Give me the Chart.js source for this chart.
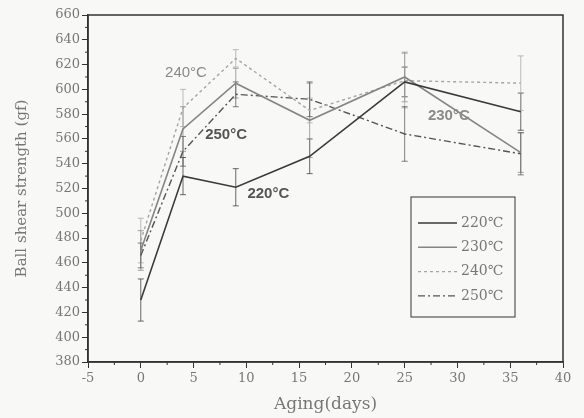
<!DOCTYPE html>
<html>
<head>
<meta charset="utf-8">
<script src="https://cdn.jsdelivr.net/npm/chart.js@4.4.1/dist/chart.umd.min.js"></script>
<style>
  html, body { margin: 0; padding: 0; background: #f8f8f6; }
  canvas { display: block; }
</style>
</head>
<body>
<canvas id="c" width="584" height="418"></canvas>
<script>
// aging days and ball shear strength (gf) per reflow temperature
const days = [0, 4, 9, 16, 25, 36];
const s220 = [430, 530, 521, 546, 606, 582];
const s230 = [470, 568, 605, 575, 610, 549];
const s240 = [478, 585, 625, 583, 607, 605];
const s250 = [466, 550, 596, 592, 564, 548];
// error bar half-heights
const e220 = [17, 15, 15, 14, 12, 15];
const e230 = [16, 18, 12, 30, 20, 16];
const e240 = [18, 15, 7, 10, 22, 22];
const e250 = [10, 12, 10, 14, 22, 17];

const seriesNames = ["220℃", "230℃", "240℃", "250℃"];
const xTicks = [-5, 0, 5, 10, 15, 20, 25, 30, 35, 40];

// in-plot labels (data coords, left edge)
const tags = [
  { text: "240°C", x: 2.3, y: 613, color: "#8a8a8a", bold: false },
  { text: "250°C", x: 6.1, y: 563, color: "#555", bold: true },
  { text: "220°C", x: 10.1, y: 516, color: "#555", bold: true },
  { text: "230°C", x: 27.2, y: 579, color: "#8a8a8a", bold: true },
];

const serif = "'DejaVu Serif', 'Liberation Serif', serif";

const mk = (label, vals, errs, color, width, dash) => ({
  label,
  data: days.map((d, i) => ({ x: d, y: vals[i] })),
  errs,
  showLine: true,
  borderColor: color,
  borderWidth: width,
  borderDash: dash,
  pointRadius: 0,
  fill: false,
  tension: 0
});

const datasets = [
  mk(seriesNames[0], s220, e220, "#3a3a3a", 1.6, []),
  mk(seriesNames[1], s230, e230, "#858585", 1.6, []),
  mk(seriesNames[2], s240, e240, "#a5a5a5", 1.4, [3, 3]),
  mk(seriesNames[3], s250, e250, "#555555", 1.4, [7, 3, 2, 3]),
];

const bgPlugin = {
  id: "bg",
  beforeDraw(chart) {
    const ctx = chart.ctx;
    ctx.save();
    ctx.fillStyle = "#f8f8f6";
    ctx.fillRect(0, 0, chart.width, chart.height);
    ctx.restore();
  }
};

const errPlugin = {
  id: "errbars",
  beforeDatasetsDraw(chart) {
    const ctx = chart.ctx, xs = chart.scales.x, ys = chart.scales.y;
    ctx.save();
    chart.data.datasets.forEach(ds => {
      ctx.strokeStyle = ds.borderColor;
      ctx.globalAlpha = 0.75;
      ctx.lineWidth = 1;
      ctx.setLineDash([]);
      ds.data.forEach((p, i) => {
        const e = ds.errs[i];
        const px = xs.getPixelForValue(p.x);
        const t = ys.getPixelForValue(p.y + e);
        const b = ys.getPixelForValue(p.y - e);
        ctx.beginPath();
        ctx.moveTo(px, t); ctx.lineTo(px, b);
        ctx.moveTo(px - 3, t); ctx.lineTo(px + 3, t);
        ctx.moveTo(px - 3, b); ctx.lineTo(px + 3, b);
        ctx.stroke();
      });
    });
    ctx.restore();
  }
};

const decoPlugin = {
  id: "deco",
  afterDraw(chart) {
    const ctx = chart.ctx, xs = chart.scales.x, ys = chart.scales.y;
    const a = chart.chartArea;
    ctx.save();
    // frame
    ctx.strokeStyle = "#333";
    ctx.lineWidth = 1.5;
    ctx.strokeRect(a.left, a.top, a.right - a.left, a.bottom - a.top);
    // minor ticks
    ctx.lineWidth = 1;
    ctx.beginPath();
    for (let v = 390; v < 660; v += 20) {
      const py = ys.getPixelForValue(v);
      ctx.moveTo(a.left - 3, py); ctx.lineTo(a.left, py);
    }
    for (let v = -2.5; v < 40; v += 5) {
      const px = xs.getPixelForValue(v);
      ctx.moveTo(px, a.bottom); ctx.lineTo(px, a.bottom + 3);
    }
    ctx.stroke();
    // in-plot labels
    ctx.textBaseline = "middle";
    ctx.textAlign = "left";
    tags.forEach(t => {
      ctx.fillStyle = t.color;
      ctx.font = (t.bold ? "bold " : "") + "15px 'Liberation Sans', Arial, sans-serif";
      ctx.fillText(t.text, xs.getPixelForValue(t.x), ys.getPixelForValue(t.y));
    });
    // legend box
    const bx = 411, by = 197, bw = 104, bh = 120;
    ctx.fillStyle = "#f8f8f6";
    ctx.fillRect(bx, by, bw, bh);
    ctx.strokeStyle = "#555";
    ctx.lineWidth = 1.2;
    ctx.strokeRect(bx, by, bw, bh);
    chart.data.datasets.forEach((ds, i) => {
      const y = by + 26 + i * 24.3;
      ctx.strokeStyle = ds.borderColor;
      ctx.lineWidth = ds.borderWidth;
      ctx.setLineDash(ds.borderDash);
      ctx.beginPath();
      ctx.moveTo(bx + 7, y); ctx.lineTo(bx + 46, y);
      ctx.stroke();
      ctx.setLineDash([]);
      ctx.fillStyle = "#777";
      ctx.font = "14px " + serif;
      ctx.fillText(ds.label, bx + 50, y);
    });
    ctx.restore();
  }
};

new Chart(document.getElementById("c"), {
  type: "scatter",
  data: { datasets },
  plugins: [bgPlugin, errPlugin, decoPlugin],
  options: {
    responsive: false,
    animation: false,
    layout: { padding: { top: 15, right: 21, left: 0, bottom: 0 } },
    plugins: { legend: { display: false }, tooltip: { enabled: false } },
    scales: {
      x: {
        type: "linear",
        min: -5, max: 40,
        afterBuildTicks: s => { s.ticks = xTicks.map(v => ({ value: v })); },
        afterFit: s => { s.height = 56; },
        ticks: { color: "#777", font: { family: serif, size: 13 }, padding: 3 },
        grid: { drawOnChartArea: false, tickLength: 6, tickColor: "#333", color: "#333" },
        border: { display: true, color: "#333", width: 1.5 },
        title: { display: true, text: "Aging(days)", color: "#777", font: { family: serif, size: 17 }, padding: { top: 0, bottom: 3 } }
      },
      y: {
        min: 380, max: 660,
        ticks: { stepSize: 20, color: "#777", font: { family: serif, size: 13 }, padding: 2 },
        afterFit: s => { s.width = 88; },
        grid: { drawOnChartArea: false, tickLength: 6, tickColor: "#333", color: "#333" },
        border: { display: true, color: "#333", width: 1.5 },
        title: { display: true, text: "Ball shear strength (gf)", color: "#777", font: { family: serif, size: 15 }, padding: { top: 13, bottom: 0 } }
      }
    }
  }
});
</script>
</body>
</html>
